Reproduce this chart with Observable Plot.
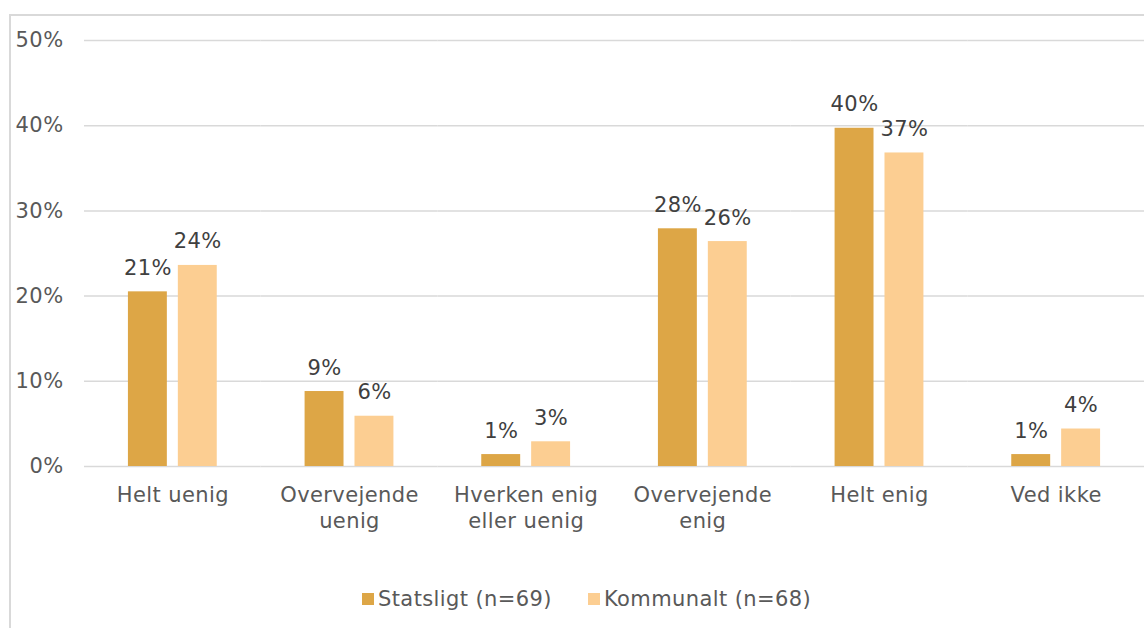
<!DOCTYPE html>
<html><head><meta charset="utf-8">
<script src="https://cdn.jsdelivr.net/npm/d3@7"></script>
<script src="https://cdn.jsdelivr.net/npm/@observablehq/plot@0.6"></script>
<style>
body{margin:0;background:#fff;font-family:"DejaVu Sans",Verdana,sans-serif;overflow:hidden;}
#frame{position:absolute;left:9px;top:14px;width:1200px;height:700px;border-left:2px solid #d9d9d9;border-top:2px solid #d9d9d9;}
#chart{position:absolute;left:0;top:0;}
#chart svg text{letter-spacing:0.4px;}
#legend{position:absolute;top:587px;left:362px;display:flex;align-items:center;font-size:21px;letter-spacing:0.4px;color:#595959;white-space:nowrap;}
#legend .item{display:flex;align-items:center;margin-right:36px;}
#legend .sw{width:12px;height:12px;margin-right:4px;}
</style>
</head><body>
<div id="frame"></div>
<div id="chart"></div>
<div id="legend"></div>
<script>
const categories = ["Helt uenig","Overvejende\nuenig","Hverken enig\neller uenig","Overvejende\nenig","Helt enig","Ved ikke"];
const series = ["Statsligt (n=69)","Kommunalt (n=68)"];
const statsligt = [20.5, 8.8, 1.4, 27.9, 39.7, 1.4];
const kommunalt = [23.6, 5.9, 2.9, 26.4, 36.8, 4.4];
const yTicks = [0,10,20,30,40,50];
const colors = ["#DDA646","#FCCE92"];

const data = [];
categories.forEach((c,i)=>{
  data.push({cat:c, series:series[0], value:statsligt[i]});
  data.push({cat:c, series:series[1], value:kommunalt[i]});
});

const chart = Plot.plot({
  width:1144, height:560,
  marginLeft:84, marginRight:0, marginTop:40, marginBottom:94,
  fx:{domain:categories, padding:0, label:null, round:false},
  x:{domain:series, paddingInner:0.22, paddingOuter:0.88, axis:null, round:false},
  y:{domain:[0,50], label:null},
  color:{domain:series, range:colors},
  style:{fontFamily:"DejaVu Sans, Verdana, sans-serif", fontSize:"21px", color:"#595959", background:"transparent"},
  marks:[
    Plot.gridY(yTicks,{stroke:"#d9d9d9", strokeOpacity:1, strokeWidth:1.5}),
    Plot.axisY(yTicks,{tickSize:0, tickPadding:21, tickFormat:d=>d+"%", label:null, fill:"#595959", fontSize:21}),
    Plot.axisFx({anchor:"bottom", tickSize:0, tickPadding:17, lineHeight:1.24, label:null, fill:"#595959", fontSize:21}),
    Plot.barY(data,{fx:"cat", x:"series", y:"value", fill:"series"}),
    Plot.text(data,{fx:"cat", x:"series", y:"value", text:d=>Math.round(d.value)+"%", lineAnchor:"bottom", dy:-17, fill:"#404040", fontSize:21})
  ]
});
document.getElementById("chart").appendChild(chart);

const legend = document.getElementById("legend");
series.forEach((s,i)=>{
  const it = document.createElement("div"); it.className="item";
  const sw = document.createElement("div"); sw.className="sw"; sw.style.background=colors[i];
  const tx = document.createElement("span"); tx.textContent=s;
  it.appendChild(sw); it.appendChild(tx); legend.appendChild(it);
});
</script>
</body></html>
